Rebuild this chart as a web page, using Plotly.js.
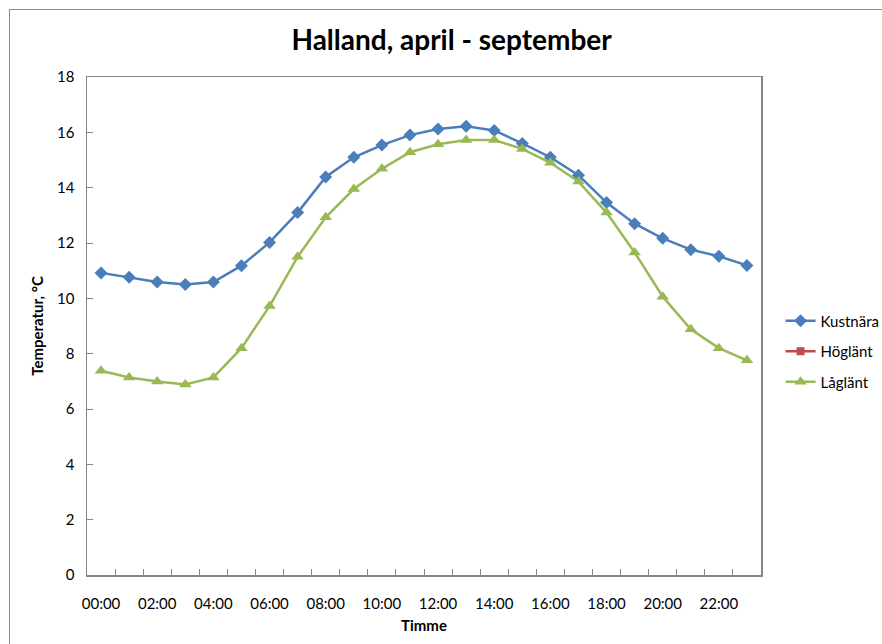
<!DOCTYPE html>
<html>
<head>
<meta charset="utf-8">
<script src="https://cdn.plot.ly/plotly-3.0.1.min.js"></script>
<style>
  html, body { margin: 0; padding: 0; background: #fff; overflow: hidden; }
  #chart { position: absolute; left: 0; top: 0; width: 882px; height: 644px; }
  #frame { position: absolute; left: 9px; top: 9px; width: 900px; height: 700px; border: 1.5px solid #8c8c8c; pointer-events: none; }
</style>
</head>
<body>
<div id="chart"></div>
<div id="frame"></div>
<script>
const hours = ['00:00','01:00','02:00','03:00','04:00','05:00','06:00','07:00','08:00','09:00','10:00','11:00',
               '12:00','13:00','14:00','15:00','16:00','17:00','18:00','19:00','20:00','21:00','22:00','23:00'];
const kustnara = [10.92, 10.76, 10.59, 10.5, 10.59, 11.18, 12.02, 13.1, 14.39, 15.1, 15.54, 15.9,
                  16.12, 16.22, 16.07, 15.6, 15.1, 14.45, 13.46, 12.7, 12.17, 11.76, 11.52, 11.19];
const hoglant = [null, null, null, null, null, null, null, null, null, null, null, null,
                 null, null, null, null, null, null, null, null, null, null, null, null];
const laglant = [7.38, 7.14, 6.99, 6.89, 7.14, 8.2, 9.72, 11.5, 12.93, 13.95, 14.68, 15.28,
                 15.57, 15.72, 15.72, 15.4, 14.9, 14.22, 13.1, 11.66, 10.06, 8.88, 8.2, 7.76];
const seriesNames = ['Kustnära', 'Höglänt', 'Låglänt'];
const tickLabels = hours.map((h, i) => (i % 2 === 0 ? h : ''));

const font = 'Lato, "Open Sans", "Noto Sans", sans-serif';

const traces = [
  { x: hours, y: kustnara, name: seriesNames[0], legendgroup: 'g1', type: 'scatter', mode: 'lines+markers',
    line: { color: '#4A7EBB', width: 2.5 },
    marker: { symbol: 'diamond', size: 10, color: '#4A7EBB' } },
  { x: hours, y: hoglant, name: seriesNames[1], legendgroup: 'g2', type: 'scatter', mode: 'lines+markers',
    line: { color: '#BE4B48', width: 2.5 },
    marker: { symbol: 'square', size: 8, color: '#BE4B48' } },
  { x: hours, y: laglant, name: seriesNames[2], legendgroup: 'g3', type: 'scatter', mode: 'lines+markers',
    line: { color: '#98B954', width: 2.5 },
    marker: { symbol: 'triangle-up', size: 11, color: '#98B954' } }
];

const layout = {
  width: 882, height: 644,
  margin: { l: 87, r: 121, t: 77, b: 69, pad: 0, autoexpand: false },
  paper_bgcolor: '#ffffff', plot_bgcolor: '#ffffff',
  font: { family: font, size: 15, color: '#000' },
  title: { text: '<b>Halland, april - september</b>', font: { family: font, size: 28, color: '#000' },
           x: 0.512, xref: 'container', xanchor: 'center', y: 0.938, yref: 'container', yanchor: 'middle' },
  xaxis: {
    type: 'category', categoryorder: 'array', categoryarray: hours,
    range: [-0.5, 23.5], tickmode: 'array', tickvals: hours, ticktext: tickLabels,
    tickson: 'boundaries', ticks: 'inside', ticklen: 6, tickcolor: '#868686', tickwidth: 1,
    tickangle: 0, ticklabelstandoff: 14,
    showline: true, linecolor: '#868686', linewidth: 1.5, mirror: true,
    showgrid: false, zeroline: false, fixedrange: true, automargin: false,
    tickfont: { family: font, size: 15, color: '#000' },
    title: { text: '<b>Timme</b>', font: { family: font, size: 15, color: '#000' }, standoff: 10 }
  },
  yaxis: {
    range: [0, 18], dtick: 2, tick0: 0,
    ticks: 'inside', ticklen: 6, tickcolor: '#868686', tickwidth: 1,
    showline: true, linecolor: '#868686', linewidth: 1.5, mirror: true,
    showgrid: false, zeroline: false, fixedrange: true, automargin: false,
    tickfont: { family: font, size: 15, color: '#000' },
    ticklabelstandoff: 8,
    title: { text: '<b>Temperatur, °C</b>', font: { family: font, size: 15, color: '#000' }, standoff: 10 }
  },
  legend: {
    xref: 'container', x: 0.885, xanchor: 'left', y: 0.449, yanchor: 'middle',
    font: { family: font, size: 15, color: '#000' },
    bgcolor: 'rgba(0,0,0,0)', itemwidth: 30, tracegroupgap: 8
  },
  showlegend: true
};

Plotly.newPlot('chart', traces, layout, { displayModeBar: false, staticPlot: true });
</script>
</body>
</html>
